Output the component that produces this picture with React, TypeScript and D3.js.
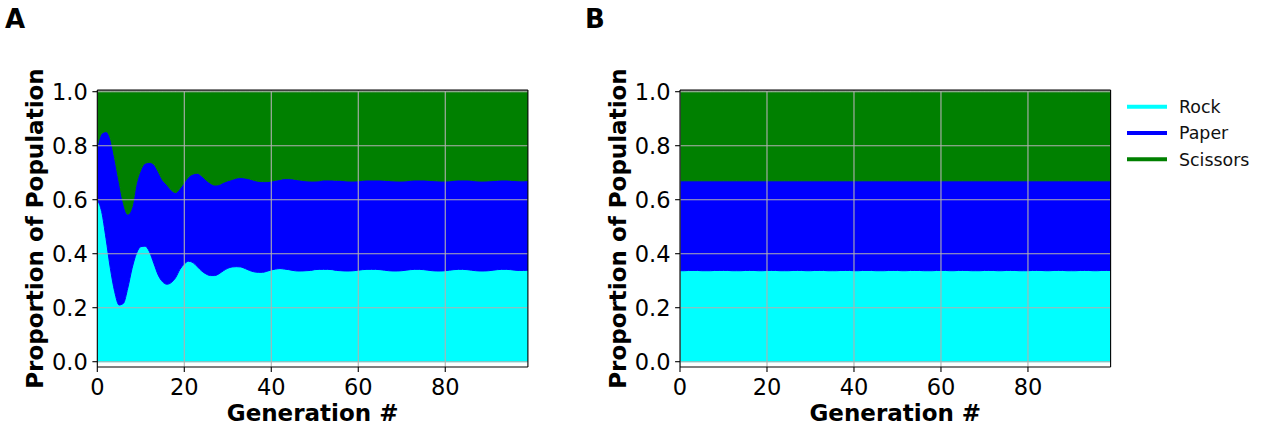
import React from 'react';
import * as d3 from 'd3';

const seriesNames = ['Rock', 'Paper', 'Scissors'];
const seriesColors = ['#00ffff', '#0000ff', '#008000'];
const panelLabels = ['A', 'B'];
const xTickValues = [0, 20, 40, 60, 80];
const yTickValues = [0, 0.2, 0.4, 0.6, 0.8, 1.0];
const xAxisTitle = 'Generation #';
const yAxisTitle = 'Proportion of Population';

// Panel A: proportions per generation (0..99)
const rockA = [
  0.600, 0.556, 0.457, 0.346, 0.259, 0.210, 0.216, 0.272, 0.346, 0.401,
  0.426, 0.428, 0.407, 0.364, 0.321, 0.296, 0.287, 0.293, 0.311, 0.342,
  0.362, 0.372, 0.367, 0.352, 0.336, 0.325, 0.319, 0.319, 0.326, 0.337,
  0.346, 0.351, 0.352, 0.351, 0.345, 0.338, 0.333, 0.331, 0.331, 0.335,
  0.340, 0.343, 0.345, 0.343, 0.341, 0.338, 0.336, 0.336, 0.337, 0.338,
  0.341, 0.342, 0.342, 0.342, 0.341, 0.338, 0.337, 0.336, 0.336, 0.337,
  0.339, 0.341, 0.342, 0.342, 0.342, 0.341, 0.339, 0.337, 0.336, 0.336,
  0.337, 0.339, 0.341, 0.342, 0.342, 0.341, 0.339, 0.337, 0.336, 0.336,
  0.337, 0.339, 0.341, 0.342, 0.342, 0.341, 0.339, 0.337, 0.336, 0.336,
  0.337, 0.339, 0.341, 0.342, 0.342, 0.341, 0.339, 0.338, 0.338, 0.339,
];
const paperA = [
  0.200, 0.289, 0.395, 0.481, 0.494, 0.457, 0.371, 0.274, 0.228, 0.260,
  0.284, 0.307, 0.331, 0.367, 0.383, 0.377, 0.368, 0.343, 0.315, 0.300,
  0.302, 0.313, 0.328, 0.346, 0.352, 0.348, 0.342, 0.335, 0.330, 0.327,
  0.324, 0.324, 0.328, 0.331, 0.335, 0.339, 0.339, 0.337, 0.336, 0.332,
  0.329, 0.329, 0.330, 0.335, 0.337, 0.339, 0.338, 0.336, 0.333, 0.331,
  0.328, 0.328, 0.331, 0.331, 0.332, 0.334, 0.335, 0.334, 0.333, 0.332,
  0.331, 0.331, 0.331, 0.331, 0.331, 0.332, 0.333, 0.334, 0.334, 0.333,
  0.332, 0.331, 0.331, 0.331, 0.331, 0.332, 0.333, 0.334, 0.334, 0.333,
  0.332, 0.331, 0.331, 0.331, 0.331, 0.332, 0.333, 0.333, 0.333, 0.333,
  0.333, 0.332, 0.331, 0.331, 0.331, 0.331, 0.332, 0.332, 0.332, 0.332,
];
const scissorsA = [
  0.200, 0.155, 0.148, 0.173, 0.247, 0.333, 0.413, 0.454, 0.426, 0.339,
  0.290, 0.265, 0.262, 0.269, 0.296, 0.327, 0.345, 0.364, 0.374, 0.358,
  0.336, 0.315, 0.305, 0.302, 0.312, 0.327, 0.339, 0.346, 0.344, 0.336,
  0.330, 0.325, 0.320, 0.318, 0.320, 0.323, 0.328, 0.332, 0.333, 0.333,
  0.331, 0.328, 0.325, 0.322, 0.322, 0.323, 0.326, 0.328, 0.330, 0.331,
  0.331, 0.330, 0.327, 0.327, 0.327, 0.328, 0.328, 0.330, 0.331, 0.331,
  0.330, 0.328, 0.327, 0.327, 0.327, 0.327, 0.328, 0.329, 0.330, 0.331,
  0.331, 0.330, 0.328, 0.327, 0.327, 0.327, 0.328, 0.329, 0.330, 0.331,
  0.331, 0.330, 0.328, 0.327, 0.327, 0.327, 0.328, 0.330, 0.331, 0.331,
  0.330, 0.329, 0.328, 0.327, 0.327, 0.328, 0.329, 0.330, 0.330, 0.329,
];

// Panel B: starts at equilibrium, tiny noise
const rockB = [
  0.337, 0.337, 0.338, 0.338, 0.338, 0.337, 0.337, 0.337, 0.338, 0.338,
  0.338, 0.338, 0.337, 0.337, 0.337, 0.338, 0.338, 0.338, 0.337, 0.337,
  0.338, 0.338, 0.338, 0.337, 0.337, 0.337, 0.338, 0.338, 0.338, 0.337,
  0.337, 0.338, 0.338, 0.338, 0.337, 0.337, 0.337, 0.338, 0.338, 0.338,
  0.337, 0.337, 0.338, 0.338, 0.338, 0.337, 0.337, 0.337, 0.338, 0.338,
  0.338, 0.337, 0.337, 0.338, 0.338, 0.338, 0.337, 0.337, 0.337, 0.338,
  0.338, 0.338, 0.337, 0.337, 0.338, 0.338, 0.338, 0.337, 0.337, 0.337,
  0.338, 0.338, 0.338, 0.337, 0.337, 0.338, 0.338, 0.338, 0.337, 0.337,
  0.337, 0.338, 0.338, 0.338, 0.337, 0.337, 0.338, 0.338, 0.338, 0.337,
  0.337, 0.337, 0.338, 0.338, 0.338, 0.337, 0.337, 0.338, 0.338, 0.338,
];
const paperB = [
  0.333, 0.333, 0.332, 0.332, 0.332, 0.333, 0.333, 0.333, 0.332, 0.332,
  0.332, 0.332, 0.333, 0.333, 0.333, 0.332, 0.332, 0.332, 0.333, 0.333,
  0.332, 0.332, 0.332, 0.333, 0.333, 0.333, 0.332, 0.332, 0.332, 0.333,
  0.333, 0.332, 0.332, 0.332, 0.333, 0.333, 0.333, 0.332, 0.332, 0.332,
  0.333, 0.333, 0.332, 0.332, 0.332, 0.333, 0.333, 0.333, 0.332, 0.332,
  0.332, 0.333, 0.333, 0.332, 0.332, 0.332, 0.333, 0.333, 0.333, 0.332,
  0.332, 0.332, 0.333, 0.333, 0.332, 0.332, 0.332, 0.333, 0.333, 0.333,
  0.332, 0.332, 0.332, 0.333, 0.333, 0.332, 0.332, 0.332, 0.333, 0.333,
  0.333, 0.332, 0.332, 0.332, 0.333, 0.333, 0.332, 0.332, 0.332, 0.333,
  0.333, 0.333, 0.332, 0.332, 0.332, 0.333, 0.333, 0.332, 0.332, 0.332,
];
const scissorsB = [
  0.330, 0.330, 0.330, 0.330, 0.330, 0.330, 0.330, 0.330, 0.330, 0.330,
  0.330, 0.330, 0.330, 0.330, 0.330, 0.330, 0.330, 0.330, 0.330, 0.330,
  0.330, 0.330, 0.330, 0.330, 0.330, 0.330, 0.330, 0.330, 0.330, 0.330,
  0.330, 0.330, 0.330, 0.330, 0.330, 0.330, 0.330, 0.330, 0.330, 0.330,
  0.330, 0.330, 0.330, 0.330, 0.330, 0.330, 0.330, 0.330, 0.330, 0.330,
  0.330, 0.330, 0.330, 0.330, 0.330, 0.330, 0.330, 0.330, 0.330, 0.330,
  0.330, 0.330, 0.330, 0.330, 0.330, 0.330, 0.330, 0.330, 0.330, 0.330,
  0.330, 0.330, 0.330, 0.330, 0.330, 0.330, 0.330, 0.330, 0.330, 0.330,
  0.330, 0.330, 0.330, 0.330, 0.330, 0.330, 0.330, 0.330, 0.330, 0.330,
  0.330, 0.330, 0.330, 0.330, 0.330, 0.330, 0.330, 0.330, 0.330, 0.330,
];

const W = 1263;
const H = 430;
const FONT = "'DejaVu Sans', sans-serif";
const GRID = '#b0b0b0';

type PanelProps = {
  id: string;
  left: number;
  label: string;
  labelX: number;
  rock: number[];
  paper: number[];
  scissors: number[];
};

function Panel({ id, left, label, labelX, rock, paper, scissors }: PanelProps) {
  const gens = rock.map((_, i) => i);
  const x = d3.scaleLinear().domain([0, 99]).range([left, left + 430.6]);
  const y = d3.scaleLinear().domain([0, 1]).range([361.7, 91.7]);
  const rows = gens.map((g, i) => ({ gen: g, Rock: rock[i], Paper: paper[i], Scissors: scissors[i] }));
  const stacked = d3.stack<any>().keys(seriesNames)(rows);
  const area = d3
    .area<any>()
    .x((d) => x(d.data.gen))
    .y0((d) => y(d[0]))
    .y1((d) => y(Math.min(1, d[1])))
    .curve(d3.curveMonotoneX);
  const top = y(1.006);
  const bottom = y(-0.0196);
  const l = x(0);
  const r = x(99);
  const tickLen = 4.9;

  return (
    <g>
      <defs>
        <clipPath id={`clip-${id}`}>
          <rect x={l} y={top} width={r - l} height={bottom - top} />
        </clipPath>
      </defs>
      <g clipPath={`url(#clip-${id})`}>
        {stacked.map((s, i) => (
          <path key={s.key} d={area(s as any) || ''} fill={seriesColors[i]} stroke={seriesColors[i]} strokeWidth={1} />
        ))}
        {xTickValues.map((t) => (
          <line key={`gx${t}`} x1={x(t)} x2={x(t)} y1={top} y2={bottom} stroke={GRID} strokeWidth={1.1} />
        ))}
        {yTickValues.map((t) => (
          <line key={`gy${t}`} x1={l} x2={r} y1={y(t)} y2={y(t)} stroke={GRID} strokeWidth={1.1} />
        ))}
      </g>
      {/* spines */}
      <line x1={l} x2={r} y1={top} y2={top} stroke="#000" strokeWidth={1.1} />
      <line x1={l} x2={r} y1={bottom} y2={bottom} stroke="#000" strokeWidth={1.1} />
      <line x1={l} x2={l} y1={top} y2={bottom} stroke="#000" strokeWidth={1.1} />
      <line x1={r} x2={r} y1={top} y2={bottom} stroke="#000" strokeWidth={1.1} />
      {/* x ticks */}
      {xTickValues.map((t) => (
        <g key={`xt${t}`}>
          <line x1={x(t)} x2={x(t)} y1={bottom} y2={bottom + tickLen} stroke="#000" strokeWidth={1.1} />
          <text x={x(t)} y={394.5} textAnchor="middle" fontFamily={FONT} fontSize={22.5} fill="#000">
            {t}
          </text>
        </g>
      ))}
      {/* y ticks */}
      {yTickValues.map((t) => (
        <g key={`yt${t}`}>
          <line x1={l - tickLen} x2={l} y1={y(t)} y2={y(t)} stroke="#000" strokeWidth={1.1} />
          <text x={l - 9.5} y={y(t) + 8.2} textAnchor="end" fontFamily={FONT} fontSize={22.5} fill="#000">
            {d3.format('.1f')(t)}
          </text>
        </g>
      ))}
      <text
        x={(l + r) / 2}
        y={420.5}
        textAnchor="middle"
        fontFamily={FONT}
        fontSize={23}
        fontWeight="bold"
        fill="#000"
      >
        {xAxisTitle}
      </text>
      <text
        transform={`translate(${l - 54.5},${(top + bottom) / 2}) rotate(-90)`}
        textAnchor="middle"
        fontFamily={FONT}
        fontSize={23}
        fontWeight="bold"
        fill="#000"
      >
        {yAxisTitle}
      </text>
      <text x={labelX} y={27.5} fontFamily={FONT} fontSize={26} fontWeight="bold" fill="#000">
        {label}
      </text>
    </g>
  );
}

function Legend() {
  const y0 = 106.7;
  const step = 26.3;
  return (
    <g>
      {seriesNames.map((n, i) => (
        <g key={n}>
          <line x1={1127} x2={1167} y1={y0 + i * step} y2={y0 + i * step} stroke={seriesColors[i]} strokeWidth={4} />
          <text x={1179} y={y0 + i * step + 6.2} fontFamily={FONT} fontSize={17.4} fill="#111">
            {n}
          </text>
        </g>
      ))}
    </g>
  );
}

export default function App() {
  return (
    <svg
      width={W}
      height={H}
      viewBox={`0 0 ${W} ${H}`}
      style={{ position: 'absolute', left: 0, top: 0, background: '#fff' }}
    >
      <rect x={0} y={0} width={W} height={H} fill="#fff" />
      <Panel id="a" left={97.3} label={panelLabels[0]} labelX={5} rock={rockA} paper={paperA} scissors={scissorsA} />
      <Panel id="b" left={680} label={panelLabels[1]} labelX={585} rock={rockB} paper={paperB} scissors={scissorsB} />
      <Legend />
    </svg>
  );
}
